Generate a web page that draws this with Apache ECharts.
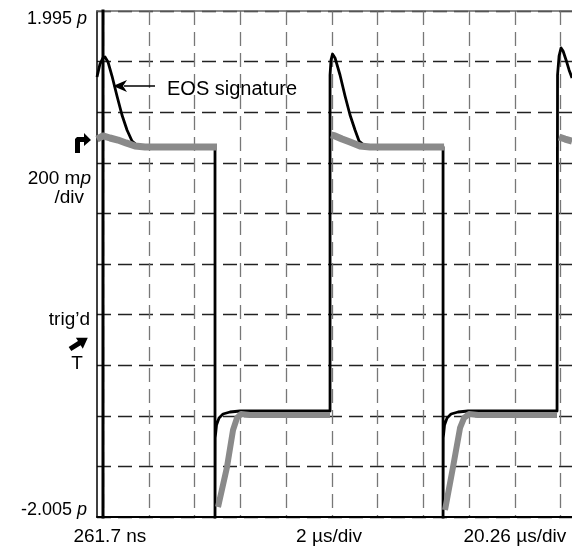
<!DOCTYPE html>
<html>
<head>
<meta charset="utf-8">
<script src="https://cdn.jsdelivr.net/npm/echarts@6/dist/echarts.min.js"></script>
<style>
body{margin:0;background:#fff}
#main{width:572px;height:552px}
</style>
</head>
<body>
<div id="main"></div>
<script>
// x in divisions (2 us/div) from the trigger edge, y in scope units
var yTop = 1.995, yBottom = -2.005, yDiv = 0.4;
var xLeft = -0.131, xRight = 10.25;
var xDivs = [0, 1, 2, 3, 4, 5, 6, 7, 8, 9, 10];
var xTickLabels = ['261.7 ns', '2 \u00b5s/div', '20.26 \u00b5s/div'];
var xTickAt = [0.15, 4.94, 9.0];

// black trace (with EOS signature)
var blackEdge = [[0, -2.1], [0, 2.1]];
var blackTrace = [
    [-0.131, 1.473], [-0.066, 1.576], [0, 1.624], [0.044, 1.631], [0.109, 1.592],
    [0.197, 1.481], [0.306, 1.323], [0.415, 1.173], [0.525, 1.054], [0.634, 0.967],
    [0.765, 0.928], [0.918, 0.920], [2.448, 0.920], [2.448, -2.1],
    [2.452, -1.380], [2.481, -1.278], [2.536, -1.222], [2.623, -1.191], [2.776, -1.175],
    [2.995, -1.167], [4.962, -1.167], [4.962, 1.489], [4.984, 1.608], [5.016, 1.655],
    [5.071, 1.624], [5.180, 1.489], [5.290, 1.323], [5.399, 1.173], [5.508, 1.054],
    [5.596, 0.967], [5.727, 0.928], [5.880, 0.920], [7.432, 0.920], [7.432, -2.1],
    [7.436, -1.380], [7.464, -1.278], [7.519, -1.222], [7.607, -1.191], [7.760, -1.175],
    [7.978, -1.167], [9.923, -1.167], [9.934, 1.489], [9.967, 1.639], [10.011, 1.703],
    [10.055, 1.679], [10.120, 1.608], [10.186, 1.529], [10.251, 1.465]
];

// grey trace (no EOS), noisy band
var greyHigh1 = [[-0.131, 0.983], [0, 1.007], [0.153, 0.991], [0.328, 0.975], [0.503, 0.952],
    [0.699, 0.928], [0.918, 0.920], [2.492, 0.920]];
var greyLow1 = [[2.514, -1.926], [2.710, -1.610], [2.842, -1.317], [2.929, -1.222],
    [3.016, -1.191], [3.213, -1.199], [4.962, -1.199]];
var greyHigh2 = [[4.984, 1.015], [5.071, 1.007], [5.224, 0.983], [5.399, 0.959],
    [5.617, 0.928], [5.836, 0.920], [7.454, 0.920]];
var greyLow2 = [[7.475, -1.950], [7.650, -1.610], [7.803, -1.301], [7.891, -1.222],
    [8.000, -1.191], [8.200, -1.199], [9.923, -1.199]];
var greyHigh3 = [[9.967, 0.999], [10.098, 0.983], [10.251, 0.967]];

var font = "'Liberation Sans', Arial, sans-serif";

function trace(data, color, width) {
    return {
        type: 'line', data: data, showSymbol: false, silent: true, clip: true,
        lineStyle: { color: color, width: width, join: 'round' }
    };
}

var chart = echarts.init(document.getElementById('main'));
chart.setOption({
    animation: false,
    backgroundColor: '#fff',
    grid: { left: 97, right: 0, top: 11, bottom: 35 },
    xAxis: [{
        type: 'value', min: xLeft, max: xRight, position: 'bottom',
        axisLine: { onZero: false, lineStyle: { color: '#000', width: 2 } },
        axisTick: { show: false, customValues: xDivs },
        splitLine: { show: true, lineStyle: { color: '#777', width: 1.3, type: [14, 7] } },
        axisLabel: {
            customValues: xTickAt, margin: 10, color: '#000', fontSize: 19, fontFamily: font,
            formatter: function (v) {
                for (var i = 0; i < xTickAt.length; i++) {
                    if (Math.abs(xTickAt[i] - v) < 1e-6) return xTickLabels[i];
                }
                return '';
            }
        }
    }, {
        type: 'value', min: xLeft, max: xRight, position: 'top',
        axisLine: { onZero: false, lineStyle: { color: '#666', width: 1.5 } },
        axisTick: { show: false }, axisLabel: { show: false }, splitLine: { show: false }
    }],
    yAxis: {
        type: 'value', min: yBottom, max: yTop, interval: yDiv,
        axisLine: { show: true, onZero: false, lineStyle: { color: '#000', width: 1.5 } },
        axisTick: { show: false },
        splitLine: { show: true, lineStyle: { color: '#222', width: 1.3, type: [14, 7] } },
        axisLabel: {
            margin: 10, color: '#000', fontSize: 18, fontFamily: font,
            showMinLabel: true, showMaxLabel: true,
            formatter: function (v) {
                if (Math.abs(v - yTop) < 1e-6) return '{a|' + yTop + ' }{ai|p}';
                if (Math.abs(v - yBottom) < 1e-6) return '{b|' + yBottom + ' }{bi|p}';
                return '';
            },
            rich: {
                a: { fontSize: 18, fontFamily: font, padding: [16, 0, 0, 0] },
                ai: { fontSize: 18, fontFamily: font, fontStyle: 'italic', padding: [16, 0, 0, 0] },
                b: { fontSize: 18, fontFamily: font, padding: [0, 0, 14, 0] },
                bi: { fontSize: 18, fontFamily: font, fontStyle: 'italic', padding: [0, 0, 14, 0] }
            }
        }
    },
    series: [
        trace(blackEdge, '#000', 3),
        trace(blackTrace, '#000', 2.8),
        trace(greyHigh1, '#8a8a8a', 7),
        trace(greyLow1, '#8a8a8a', 6),
        trace(greyHigh2, '#8a8a8a', 7),
        trace(greyLow2, '#8a8a8a', 6),
        trace(greyHigh3, '#8a8a8a', 7)
    ],
    graphic: [
        // EOS signature callout
        { type: 'line', shape: { x1: 124, y1: 86, x2: 155, y2: 86 }, style: { stroke: '#000', lineWidth: 1.5 }, z: 100 },
        { type: 'polygon', shape: { points: [[113, 86], [127, 80], [123, 86], [127, 92]] }, style: { fill: '#000' }, z: 100 },
        { type: 'text', x: 167, y: 89, style: { text: 'EOS signature', font: '20px ' + font, fill: '#000', textVerticalAlign: 'middle' }, z: 100 },
        // channel reference marker
        { type: 'polygon', shape: { points: [[75, 153], [75, 139], [77, 137], [84, 137], [84, 133], [91, 140], [84, 146], [84, 142], [80, 142], [80, 153]] }, style: { fill: '#000' } },
        { type: 'text', x: 91, y: 179, style: { text: '{n|200 m}{i|p}', rich: { n: { font: '19px ' + font }, i: { font: 'italic 19px ' + font } }, fill: '#000', align: 'right', verticalAlign: 'middle' } },
        { type: 'text', x: 84, y: 198, style: { text: '/div', font: '19px ' + font, fill: '#000', align: 'right', verticalAlign: 'middle' } },
        // trigger marker
        { type: 'text', x: 90, y: 320, style: { text: 'trig\u2019d', font: '19px ' + font, fill: '#000', align: 'right', verticalAlign: 'middle' } },
        { type: 'polygon', x: 70, y: 349, rotation: 0.56, shape: { points: [[0, -2.5], [11, -2.5], [11, -6.5], [21, 0], [11, 6.5], [11, 2.5], [0, 2.5]] }, style: { fill: '#000' } },
        { type: 'text', x: 77, y: 364, style: { text: 'T', font: '19px ' + font, fill: '#000', align: 'center', verticalAlign: 'middle' } }
    ]
});
</script>
</body>
</html>
